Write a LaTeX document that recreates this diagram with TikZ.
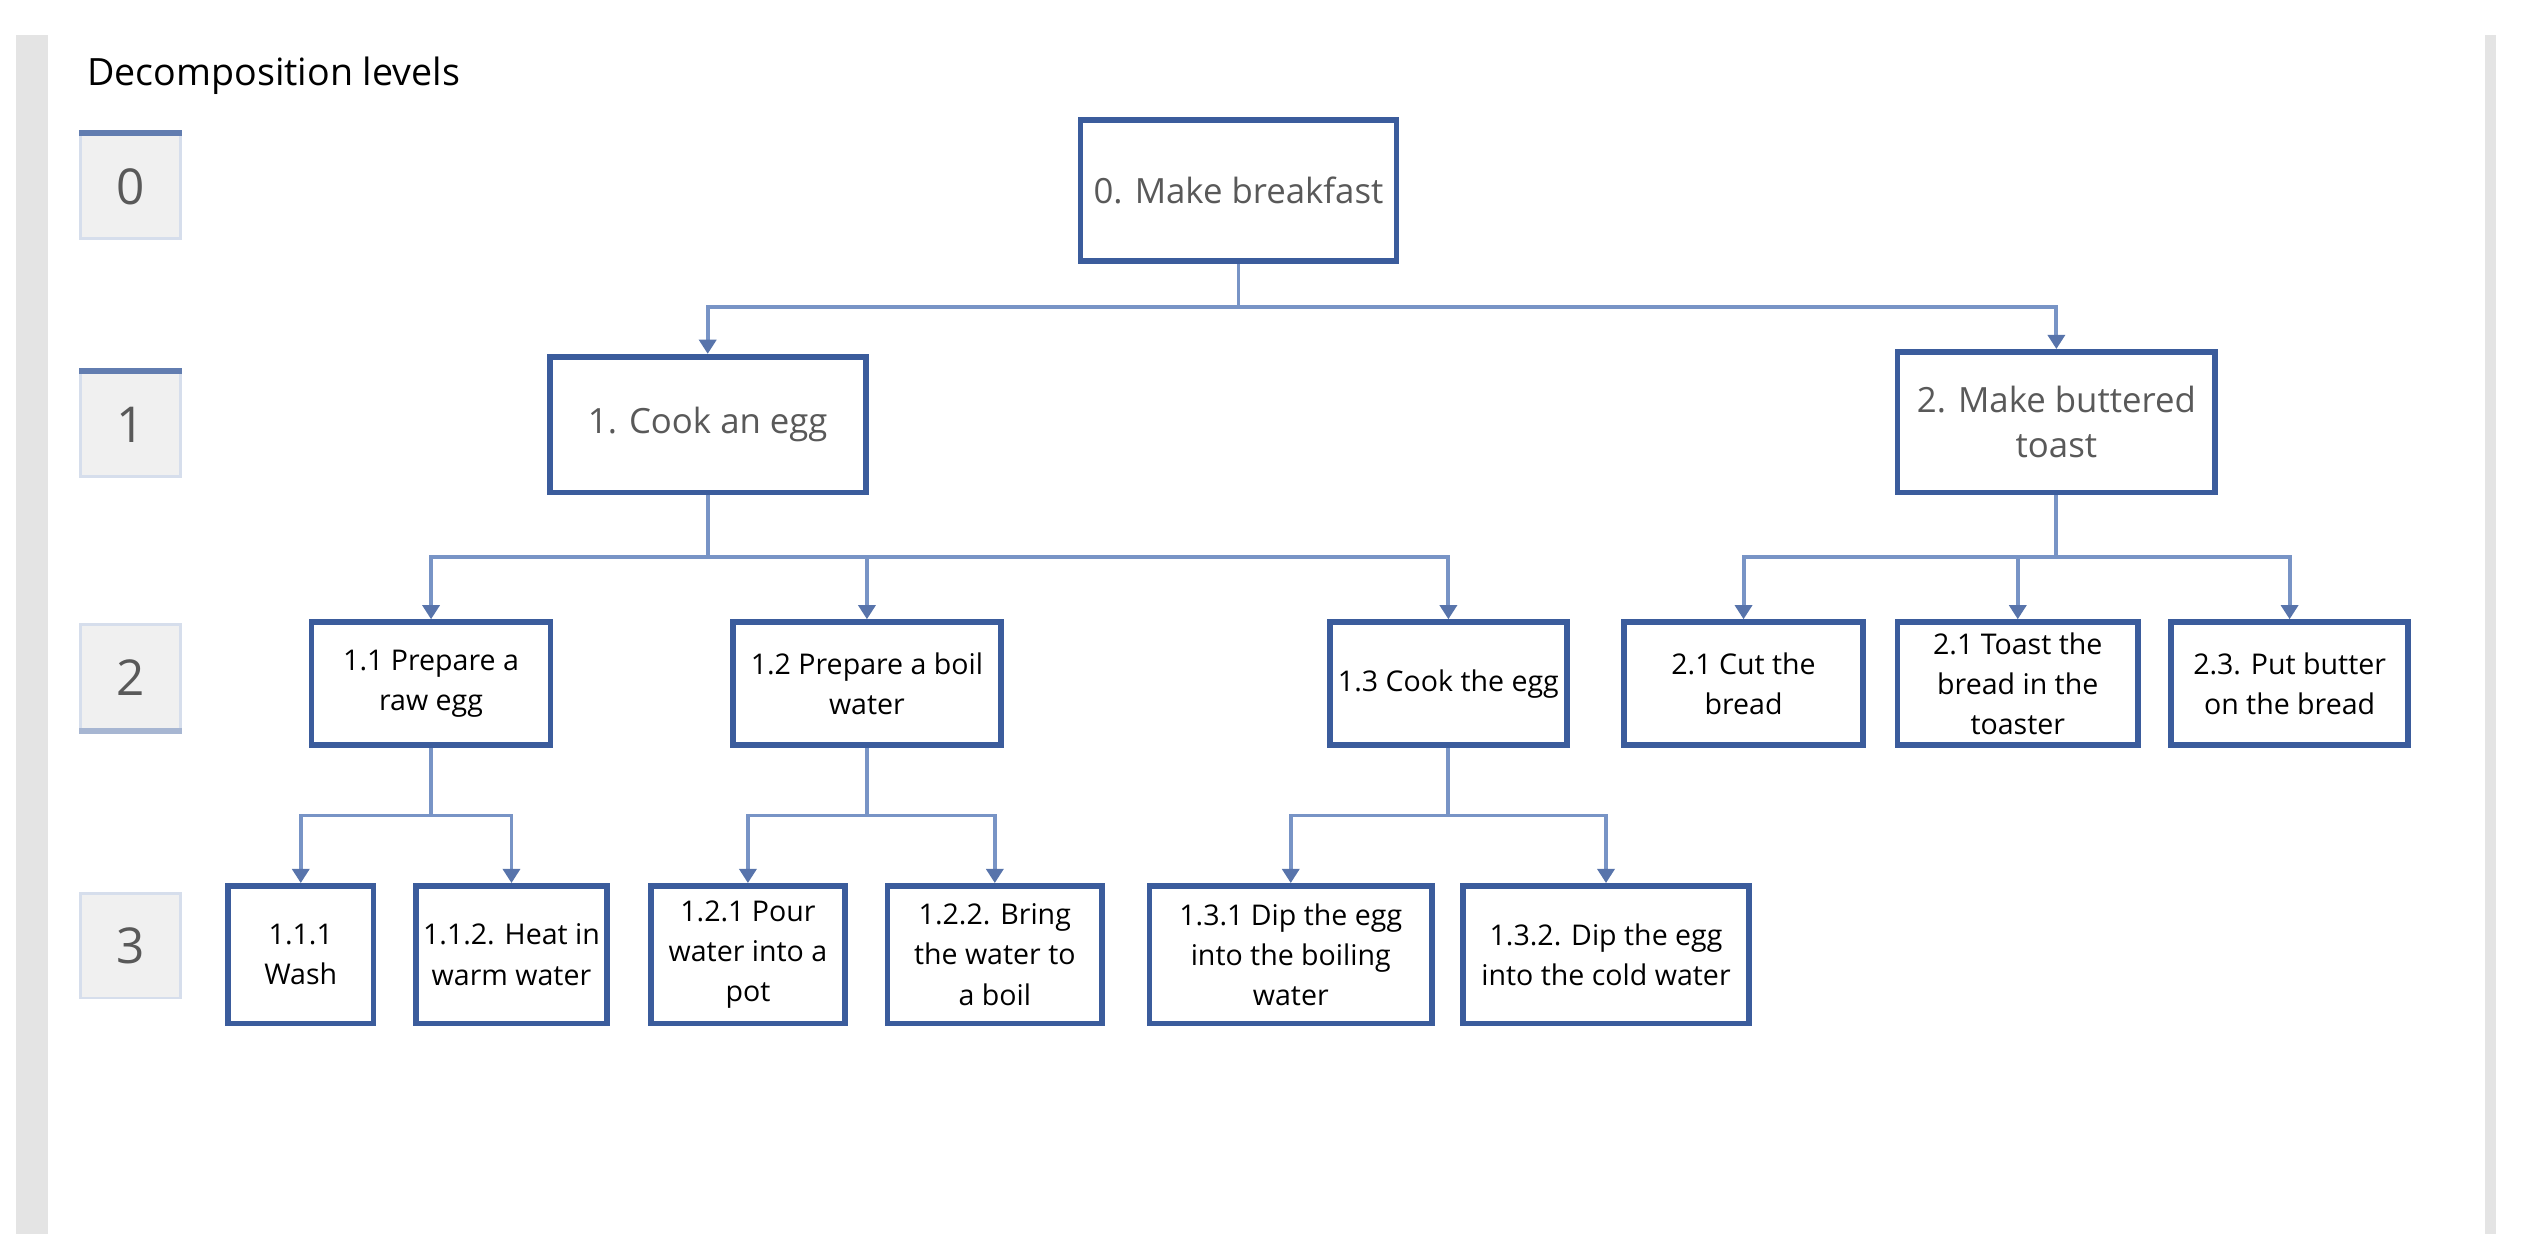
\documentclass[tikz,border=0pt]{standalone}
\usepackage{fontspec}
\setmainfont{Open Sans}
\usetikzlibrary{arrows.meta}
\definecolor{boxblue}{RGB}{59,92,156}
\definecolor{connblue}{RGB}{120,148,198}
\definecolor{lvlgray}{RGB}{240,240,240}
\definecolor{lvledge}{RGB}{214,222,236}
\definecolor{txtgray}{RGB}{89,89,89}
\definecolor{bargray}{RGB}{228,228,228}
\begin{document}
\begin{tikzpicture}[x=0.02cm,y=-0.02cm,
    task/.style={draw=boxblue,line width=2pt,fill=white,align=center,inner sep=1pt},
    top/.style={task,text=txtgray,font=\fontsize{12.3}{15.9}\selectfont},
    sub/.style={task,minimum height=1.53cm,font=\fontsize{10.1}{14.2}\selectfont},
    leaf/.style={task,minimum height=1.71cm,font=\fontsize{10.1}{14.2}\selectfont},
    lvl/.style={draw=lvledge,line width=1pt,fill=lvlgray,minimum width=1.24cm,minimum height=1.3cm,text=txtgray,font=\fontsize{17.5}{20}\selectfont},
    conn/.style={connblue,line width=1.4pt},
    arr/.style={conn,-{Triangle[width=6pt,length=5pt,color=boxblue!85,fill=boxblue!85]}}]
    \useasboundingbox (0,0) rectangle (1568,779);
    % page bars
    \fill[bargray] (10,22) rectangle (30,767);
    \fill[bargray] (1545,22) rectangle (1552,767);
    \node[anchor=base west,inner sep=0pt,font=\fontsize{13.3}{16}\selectfont] (title) at (54,53) {Decomposition levels};
    % levels
    \foreach \n/\y in {0/116,1/264,2/421,3/588}
        {\node[lvl] (lv\n) at (81,\y) {\n};
        }
    \draw[boxblue!80,line width=2pt] (lv0.north west) -- (lv0.north east);
    \draw[boxblue!80,line width=2pt] (lv1.north west) -- (lv1.north east);
    \draw[boxblue!45,line width=2pt] (lv2.south west) -- (lv2.south east);
    % tasks
    \node[top,minimum width=3.93cm,minimum height=1.75cm] (b0) at (770,118.5) {0. Make breakfast};
    \node[top,minimum width=3.93cm,minimum height=1.69cm] (b1) at (440,264) {1. Cook an egg};
    \node[top,minimum width=3.95cm,minimum height=1.75cm] (b2) at (1278.5,262.5) {2. Make buttered\\toast};
    \node[sub,minimum width=2.97cm] (b11) at (268,425) {1.1 Prepare a\\raw egg};
    \node[sub,minimum width=3.33cm] (b12) at (539,425) {1.2 Prepare a boil\\water};
    \node[sub,minimum width=2.95cm] (b13) at (900.5,425) {1.3 Cook the egg};
    \node[sub,minimum width=2.97cm] (b21) at (1084,425) {2.1 Cut the\\bread};
    \node[sub,minimum width=2.99cm] (b22) at (1254.5,425) {2.1 Toast the\\bread in the\\toaster};
    \node[sub,minimum width=2.95cm] (b23) at (1423.5,425) {2.3. Put butter\\on the bread};
    \node[leaf,minimum width=1.81cm] (b111) at (187,593.5) {1.1.1\\Wash};
    \node[leaf,minimum width=2.37cm] (b112) at (318,593.5) {1.1.2. Heat in\\warm water};
    \node[leaf,minimum width=2.41cm] (b121) at (465,593.5) {1.2.1 Pour\\water into a\\pot};
    \node[leaf,minimum width=2.67cm] (b122) at (618.5,593.5) {1.2.2. Bring\\the water to\\a boil};
    \node[leaf,minimum width=3.51cm] (b131) at (802.5,593.5) {1.3.1 Dip the egg\\into the boiling\\water};
    \node[leaf,minimum width=3.55cm] (b132) at (998.5,593.5) {1.3.2. Dip the egg\\into the cold water};
    % connectors
    \coordinate (j0) at (b0.south |- 0,191);
    \coordinate (j1) at (b1.south |- 0,346);
    \coordinate (j2) at (b2.south |- 0,346);
    \coordinate (j11) at (b11.south |- 0,507);
    \coordinate (j12) at (b12.south |- 0,507);
    \coordinate (j13) at (b13.south |- 0,507);
    \foreach \p/\j in {b0/j0,b1/j1,b2/j2,b11/j11,b12/j12,b13/j13}
        {\draw[conn] (\p.south) -- (\j);
        }
    \foreach \j/\c in {j0/b1,j0/b2,j1/b11,j1/b12,j1/b13,j2/b21,j2/b22,j2/b23,j11/b111,j11/b112,j12/b121,j12/b122,j13/b131,j13/b132}
        {\draw[arr] (\j) -| (\c.north);
        }
\end{tikzpicture}
\end{document}
